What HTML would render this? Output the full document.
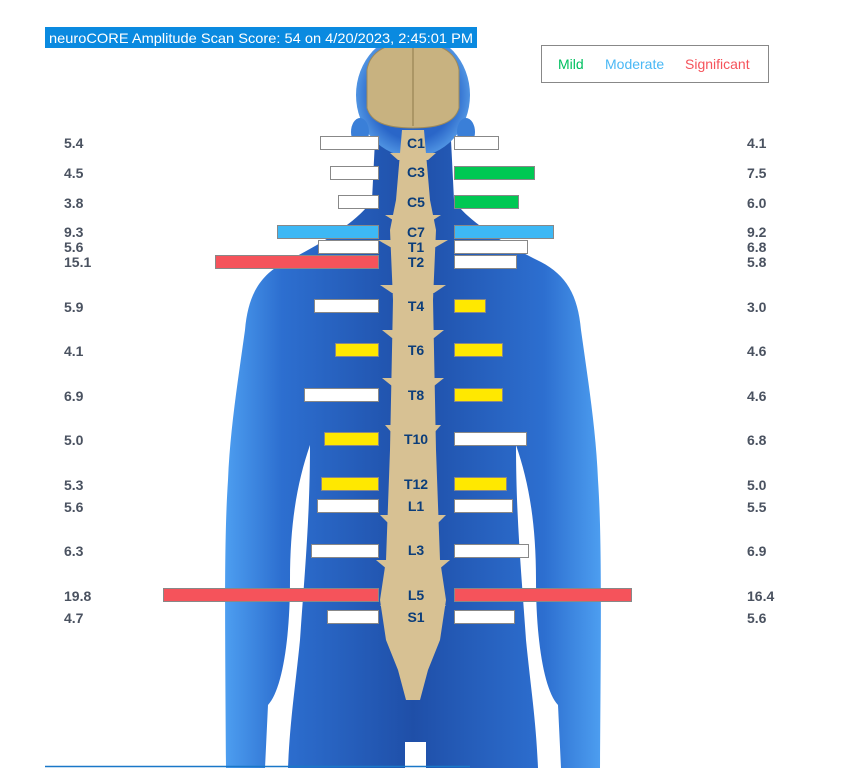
<!DOCTYPE html>
<html><head><meta charset="utf-8"><style>
html,body{margin:0;padding:0;background:#fff;}
svg{display:block}
text{font-family:"Liberation Sans",sans-serif}
</style></head><body>
<svg width="842" height="768" viewBox="0 0 842 768" xmlns="http://www.w3.org/2000/svg">
<defs>
<linearGradient id="bg" x1="0" x2="1" y1="0" y2="0">
<stop offset="0" stop-color="#4d9ef0"/><stop offset="0.15" stop-color="#2d6fd0"/><stop offset="0.5" stop-color="#1f4fa8"/><stop offset="0.85" stop-color="#2d6fd0"/><stop offset="1" stop-color="#4d9ef0"/>
</linearGradient>
<radialGradient id="hg" cx="0.5" cy="0.5" r="0.6"><stop offset="0.6" stop-color="#2a66c8"/><stop offset="1" stop-color="#6ab4f5"/></radialGradient>
</defs>
<!-- body -->
<path fill="url(#bg)" d="M375,140 L372,200 C360,220 320,245 285,262 C260,275 248,295 245,330 C238,380 230,430 228,480 C224,540 225,620 226,768 L600,768 C601,620 602,540 598,480 C596,430 588,380 581,330 C578,295 566,275 541,262 C506,245 466,220 454,200 L451,140 Z"/>
<!-- gaps between arms and torso -->
<path fill="#fff" d="M310,445 C298,480 290,520 290,580 C290,640 282,690 268,705 L265,768 L288,768 C290,720 295,690 300,640 C304,580 310,520 310,445 Z"/>
<path fill="#fff" d="M516,445 C528,480 536,520 536,580 C536,640 544,690 558,705 L561,768 L538,768 C536,720 531,690 526,640 C522,580 516,520 516,445 Z"/>
<ellipse cx="413" cy="95" rx="57" ry="62" fill="url(#hg)"/>
<ellipse cx="360" cy="132" rx="9" ry="14" fill="#3a7fd8"/>
<ellipse cx="466" cy="132" rx="9" ry="14" fill="#3a7fd8"/>
<!-- brain -->
<path fill="#c8b280" stroke="#9e8a5a" d="M367,70 C370,50 390,42 413,42 C436,42 456,50 459,70 L459,108 C455,122 440,128 413,128 C386,128 371,122 367,108 Z"/>
<line x1="413" y1="45" x2="413" y2="126" stroke="#8e7a4a"/>
<!-- spine -->
<path fill="#d7c193" d="M402,130 L424,130 L430,200 L436,230 L433,300 L436,450 L440,560 L446,600 L440,640 L428,670 L420,700 L406,700 L398,670 L386,640 L380,600 L386,560 L390,450 L393,300 L390,230 L396,200 Z"/>
<g fill="#d7c193">
<path d="M390,153 L436,153 L428,160 L398,160Z"/>
<path d="M385,215 L441,215 L430,222 L396,222Z"/><path d="M378,240 L448,240 L434,248 L392,248Z"/>
<path d="M380,285 L446,285 L434,293 L392,293Z"/><path d="M382,330 L444,330 L434,338 L392,338Z"/>
<path d="M382,378 L444,378 L434,386 L392,386Z"/><path d="M385,425 L441,425 L434,433 L392,433Z"/>
<path d="M380,515 L446,515 L436,525 L390,525Z"/><path d="M376,560 L450,560 L438,570 L388,570Z"/>
<path d="M380,605 L446,605 L436,615 L390,615Z"/>
</g>
<!-- header -->
<rect x="45" y="27" width="432" height="21" fill="#0a8ae0"/>
<text x="49" y="43" font-size="14" fill="#fff" textLength="424" lengthAdjust="spacingAndGlyphs">neuroCORE Amplitude Scan Score: 54 on 4/20/2023, 2:45:01 PM</text>
<rect x="541.5" y="45.5" width="227" height="37" fill="#fff" stroke="#888"/>
<text x="558" y="69" font-size="14" fill="#00c060">Mild</text>
<text x="605" y="69" font-size="14" fill="#4ab8f5">Moderate</text>
<text x="685" y="69" font-size="14" fill="#f5535b">Significant</text>
<!-- bars -->
<g stroke="#888" stroke-width="1">
<rect x="320.5" y="136.5" width="58" height="13" fill="#fff"/><rect x="454.5" y="136.5" width="44" height="13" fill="#fff"/>
<rect x="330.5" y="166.5" width="48" height="13" fill="#fff"/><rect x="454.5" y="166.5" width="80" height="13" fill="#00c853"/>
<rect x="338.5" y="195.5" width="40" height="13" fill="#fff"/><rect x="454.5" y="195.5" width="64" height="13" fill="#00c853"/>
<rect x="277.5" y="225.5" width="101" height="13" fill="#3db8f5"/><rect x="454.5" y="225.5" width="99" height="13" fill="#3db8f5"/>
<rect x="318.5" y="240.5" width="60" height="13" fill="#fff"/><rect x="454.5" y="240.5" width="73" height="13" fill="#fff"/>
<rect x="215.5" y="255.5" width="163" height="13" fill="#f5535b"/><rect x="454.5" y="255.5" width="62" height="13" fill="#fff"/>
<rect x="314.5" y="299.5" width="64" height="13" fill="#fff"/><rect x="454.5" y="299.5" width="31" height="13" fill="#ffe800"/>
<rect x="335.5" y="343.5" width="43" height="13" fill="#ffe800"/><rect x="454.5" y="343.5" width="48" height="13" fill="#ffe800"/>
<rect x="304.5" y="388.5" width="74" height="13" fill="#fff"/><rect x="454.5" y="388.5" width="48" height="13" fill="#ffe800"/>
<rect x="324.5" y="432.5" width="54" height="13" fill="#ffe800"/><rect x="454.5" y="432.5" width="72" height="13" fill="#fff"/>
<rect x="321.5" y="477.5" width="57" height="13" fill="#ffe800"/><rect x="454.5" y="477.5" width="52" height="13" fill="#ffe800"/>
<rect x="317.5" y="499.5" width="61" height="13" fill="#fff"/><rect x="454.5" y="499.5" width="58" height="13" fill="#fff"/>
<rect x="311.5" y="544.5" width="67" height="13" fill="#fff"/><rect x="454.5" y="544.5" width="74" height="13" fill="#fff"/>
<rect x="163.5" y="588.5" width="215" height="13" fill="#f5535b"/><rect x="454.5" y="588.5" width="177" height="13" fill="#f5535b"/>
<rect x="327.5" y="610.5" width="51" height="13" fill="#fff"/><rect x="454.5" y="610.5" width="60" height="13" fill="#fff"/>
</g>
<!-- spine labels -->
<g font-size="14" font-weight="bold" fill="#0b3d7a" text-anchor="middle">
<text x="416" y="148">C1</text><text x="416" y="177">C3</text><text x="416" y="207">C5</text>
<text x="416" y="237">C7</text><text x="416" y="252">T1</text><text x="416" y="267">T2</text>
<text x="416" y="311">T4</text><text x="416" y="355">T6</text><text x="416" y="400">T8</text>
<text x="416" y="444">T10</text><text x="416" y="489">T12</text><text x="416" y="511">L1</text>
<text x="416" y="555">L3</text><text x="416" y="600">L5</text><text x="416" y="622">S1</text>
</g>
<!-- numbers -->
<g font-size="14" font-weight="bold" fill="#4a5260">
<text x="64" y="148">5.4</text><text x="64" y="178">4.5</text><text x="64" y="208">3.8</text>
<text x="64" y="237">9.3</text><text x="64" y="252">5.6</text><text x="64" y="267">15.1</text>
<text x="64" y="312">5.9</text><text x="64" y="356">4.1</text><text x="64" y="401">6.9</text>
<text x="64" y="445">5.0</text><text x="64" y="490">5.3</text><text x="64" y="512">5.6</text>
<text x="64" y="556">6.3</text><text x="64" y="601">19.8</text><text x="64" y="623">4.7</text>
<text x="747" y="148">4.1</text><text x="747" y="178">7.5</text><text x="747" y="208">6.0</text>
<text x="747" y="237">9.2</text><text x="747" y="252">6.8</text><text x="747" y="267">5.8</text>
<text x="747" y="312">3.0</text><text x="747" y="356">4.6</text><text x="747" y="401">4.6</text>
<text x="747" y="445">6.8</text><text x="747" y="490">5.0</text><text x="747" y="512">5.5</text>
<text x="747" y="556">6.9</text><text x="747" y="601">16.4</text><text x="747" y="623">5.6</text>
</g>
<rect x="405" y="742" width="21" height="26" fill="#fff"/>
<line x1="45" y1="766.5" x2="470" y2="766.5" stroke="#1a78c8" stroke-width="1.5"/>
</svg>
</body></html>
